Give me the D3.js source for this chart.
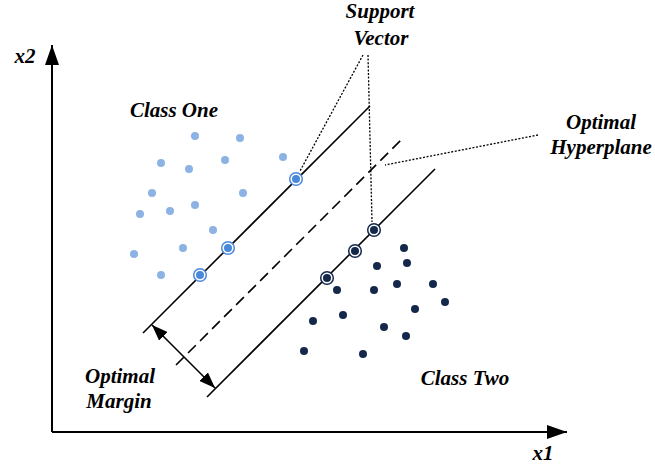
<!DOCTYPE html>
<html>
<head>
<meta charset="utf-8">
<script src="https://cdn.jsdelivr.net/npm/d3@7/dist/d3.min.js"></script>
<style>
  html, body { margin: 0; padding: 0; background: #ffffff; }
  svg { display: block; }
  text { font-family: "Liberation Serif", "Times New Roman", serif; font-weight: bold; font-style: italic; fill: #000; }
</style>
</head>
<body>
<svg id="chart" width="655" height="468"></svg>
<script>
// ---- data (feature-space units: x1 to the right, x2 upward) ----
const classOneX1 = [143, 188, 231, 109, 137, 173, 100, 191, 88, 118, 143, 161, 82, 131, 109];
const classOneX2 = [296, 294, 275, 269, 263, 272, 239, 239, 218, 221, 227, 202, 178, 184, 157];
const classOneSVX1 = [244, 176, 148];
const classOneSVX2 = [253, 184, 157];

const classTwoX1 = [352, 355, 325, 285, 322, 345, 381, 393, 363, 261, 291, 332, 354, 252, 311];
const classTwoX2 = [184, 169, 166, 142, 142, 148, 148, 130, 123, 111, 117, 105, 96, 81, 78];
const classTwoSVX1 = [322, 303, 275];
const classTwoSVX2 = [202, 181, 154];

// boundary lines: x2 = x1 + intercept, drawn between x1Start and x1End
const lineNames = ["marginOne", "hyperplane", "marginTwo"];
const lineIntercepts = [8, -57, -120];
const lineX1Start = [91, 124, 155];
const lineX1End = [318, 350, 383];

// margin arrow endpoints
const marginArrowX1 = [100, 163];
const marginArrowX2 = [107, 44];

const axisLabels = ["x1", "x2"];
const annotationLabels = ["Class One", "Class Two", "Support", "Vector", "Optimal", "Hyperplane", "Optimal", "Margin"];

// ---- scales ----
const svg = d3.select("#chart");
const x = d3.scaleLinear().domain([0, 515]).range([52, 567]);
const y = d3.scaleLinear().domain([0, 387]).range([432, 45]);

const defs = svg.append("defs");
defs.append("marker").attr("id", "axisHead")
  .attr("viewBox", "0 0 20 14").attr("refX", 20).attr("refY", 7)
  .attr("markerUnits", "userSpaceOnUse").attr("markerWidth", 20).attr("markerHeight", 14)
  .attr("orient", "auto")
  .append("path").attr("d", "M0,0 L20,7 L0,14 Z").attr("fill", "#000");
defs.append("marker").attr("id", "marginHead")
  .attr("viewBox", "0 0 16 12").attr("refX", 16).attr("refY", 6)
  .attr("markerUnits", "userSpaceOnUse").attr("markerWidth", 16).attr("markerHeight", 12)
  .attr("orient", "auto-start-reverse")
  .append("path").attr("d", "M0,0 L16,6 L0,12 Z").attr("fill", "#000");

// ---- axes ----
svg.append("line")
  .attr("x1", x(0)).attr("y1", y(0)).attr("x2", x(515)).attr("y2", y(0))
  .attr("stroke", "#000").attr("stroke-width", 2).attr("marker-end", "url(#axisHead)");
svg.append("line")
  .attr("x1", x(0)).attr("y1", y(0)).attr("x2", x(0)).attr("y2", y(387))
  .attr("stroke", "#000").attr("stroke-width", 2).attr("marker-end", "url(#axisHead)");

// ---- boundary lines ----
lineNames.forEach((n, i) => {
  const a = lineX1Start[i], b = lineX1End[i];
  svg.append("line")
    .attr("x1", x(a)).attr("y1", y(a + lineIntercepts[i]))
    .attr("x2", x(b)).attr("y2", y(b + lineIntercepts[i]))
    .attr("stroke", "#000").attr("stroke-width", 1.6)
    .attr("stroke-dasharray", n === "hyperplane" ? "11,6" : null);
});

// ---- margin arrow ----
svg.append("line")
  .attr("x1", x(marginArrowX1[0])).attr("y1", y(marginArrowX2[0]))
  .attr("x2", x(marginArrowX1[1])).attr("y2", y(marginArrowX2[1]))
  .attr("stroke", "#000").attr("stroke-width", 1.6)
  .attr("marker-start", "url(#marginHead)").attr("marker-end", "url(#marginHead)");

// ---- dotted callouts ----
const callouts = [
  [[363 - 52, 432 - 55], [classOneSVX1[0] + 4, classOneSVX2[0] + 8]],
  [[368 - 52, 432 - 55], [classTwoSVX1[0] - 2, classTwoSVX2[0] + 8]],
  [[538 - 52, 432 - 135], [385 - 52, 432 - 165]]
];
callouts.forEach(c => {
  svg.append("line")
    .attr("x1", x(c[0][0])).attr("y1", y(c[0][1]))
    .attr("x2", x(c[1][0])).attr("y2", y(c[1][1]))
    .attr("stroke", "#000").attr("stroke-width", 1.3).attr("stroke-dasharray", "2,1.6");
});

// ---- points ----
const c1 = classOneX1.map((v, i) => ({x1: v, x2: classOneX2[i]}));
const c2 = classTwoX1.map((v, i) => ({x1: v, x2: classTwoX2[i]}));
const sv1 = classOneSVX1.map((v, i) => ({x1: v, x2: classOneSVX2[i]}));
const sv2 = classTwoSVX1.map((v, i) => ({x1: v, x2: classTwoSVX2[i]}));

svg.selectAll(".c1").data(c1).join("circle").attr("class", "c1")
  .attr("cx", d => x(d.x1)).attr("cy", d => y(d.x2)).attr("r", 4).attr("fill", "#8cb3e4");
svg.selectAll(".c2").data(c2).join("circle").attr("class", "c2")
  .attr("cx", d => x(d.x1)).attr("cy", d => y(d.x2)).attr("r", 4).attr("fill", "#13284a");

function drawSV(data, col) {
  const g = svg.append("g");
  g.selectAll(".ring").data(data).join("circle")
    .attr("cx", d => x(d.x1)).attr("cy", d => y(d.x2)).attr("r", 6.3)
    .attr("fill", "#fff").attr("stroke", col).attr("stroke-width", 1.5);
  g.selectAll(".dot").data(data).join("circle")
    .attr("cx", d => x(d.x1)).attr("cy", d => y(d.x2)).attr("r", 4).attr("fill", col);
}
drawSV(sv1, "#4a88da");
drawSV(sv2, "#13284a");

// ---- text ----
function label(t, px, py, size, anchor) {
  svg.append("text").attr("x", px).attr("y", py).attr("font-size", size)
    .attr("text-anchor", anchor || "middle").text(t);
}
const fs = 21;
label(axisLabels[1], 25, 63, fs);
label(axisLabels[0], 543, 460, fs);
label(annotationLabels[0], 174, 117, fs);
label(annotationLabels[1], 465, 385, fs);
label(annotationLabels[2], 380, 18, fs);
label(annotationLabels[3], 381, 45, fs);
label(annotationLabels[4], 601, 129, fs);
label(annotationLabels[5], 601, 154, fs);
label(annotationLabels[6], 120, 383, fs);
label(annotationLabels[7], 119, 408, fs);
</script>
</body>
</html>
